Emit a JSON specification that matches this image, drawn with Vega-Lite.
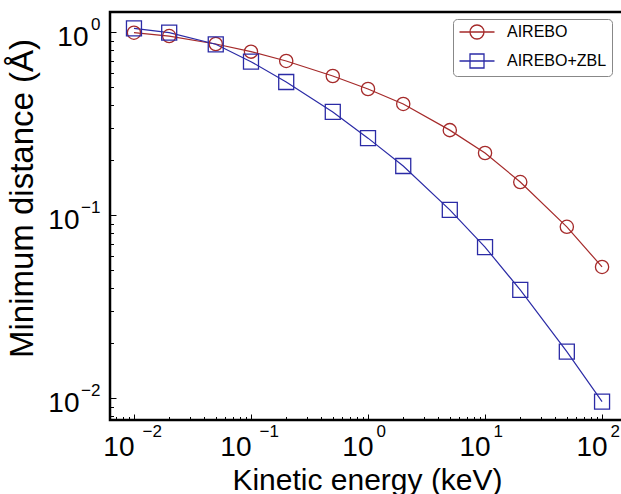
{
  "$schema": "https://vega.github.io/schema/vega-lite/v6.json",
  "width": 513,
  "height": 408,
  "autosize": {"type": "none"},
  "padding": {"left": 110, "top": 12, "right": 0, "bottom": 74},
  "background": "white",
  "config": {
    "view": {"stroke": "black", "strokeWidth": 2.5},
    "axis": {"grid": false, "domain": false, "labelColor": "black", "tickColor": "black", "labelFont": "Liberation Sans", "titleFont": "Liberation Sans", "titleFontWeight": "normal", "titleColor": "black", "labelOverlap": false, "labelFlush": false, "labelBound": false},
    "legend": {"labelFont": "Liberation Sans", "labelFontSize": 16, "labelColor": "black"}
  },
  "data": {
    "values": [
      {"e": 0.01, "d": 0.995, "s": "AIREBO"},
      {"e": 0.02, "d": 0.954, "s": "AIREBO"},
      {"e": 0.05, "d": 0.863, "s": "AIREBO"},
      {"e": 0.1, "d": 0.784, "s": "AIREBO"},
      {"e": 0.2, "d": 0.697, "s": "AIREBO"},
      {"e": 0.5, "d": 0.577, "s": "AIREBO"},
      {"e": 1, "d": 0.49, "s": "AIREBO"},
      {"e": 2, "d": 0.406, "s": "AIREBO"},
      {"e": 5, "d": 0.292, "s": "AIREBO"},
      {"e": 10, "d": 0.219, "s": "AIREBO"},
      {"e": 20, "d": 0.152, "s": "AIREBO"},
      {"e": 50, "d": 0.0865, "s": "AIREBO"},
      {"e": 100, "d": 0.0522, "s": "AIREBO"},
      {"e": 0.01, "d": 1.05, "s": "AIREBO+ZBL"},
      {"e": 0.02, "d": 0.995, "s": "AIREBO+ZBL"},
      {"e": 0.05, "d": 0.86, "s": "AIREBO+ZBL"},
      {"e": 0.1, "d": 0.691, "s": "AIREBO+ZBL"},
      {"e": 0.2, "d": 0.535, "s": "AIREBO+ZBL"},
      {"e": 0.5, "d": 0.367, "s": "AIREBO+ZBL"},
      {"e": 1, "d": 0.264, "s": "AIREBO+ZBL"},
      {"e": 2, "d": 0.186, "s": "AIREBO+ZBL"},
      {"e": 5, "d": 0.107, "s": "AIREBO+ZBL"},
      {"e": 10, "d": 0.067, "s": "AIREBO+ZBL"},
      {"e": 20, "d": 0.0391, "s": "AIREBO+ZBL"},
      {"e": 50, "d": 0.018, "s": "AIREBO+ZBL"},
      {"e": 100, "d": 0.0096, "s": "AIREBO+ZBL"}
    ]
  },
  "resolve": {"axis": {"x": "independent", "y": "independent"}},
  "layer": [
    {
      "mark": {"type": "line", "strokeWidth": 1.2},
      "encoding": {
        "x": {"field": "e", "type": "quantitative", "scale": {"type": "log", "domain": [0.00624, 151], "nice": false},
          "axis": {"orient": "bottom", "values": [0.01, 0.1, 1, 10, 100], "labelExpr": "'10'", "labelFontSize": 28, "labelAlign": "right", "labelBaseline": "top", "labelPadding": 13,
            "labelOffset": {"condition": {"test": "datum.value < 0.5", "value": 0}, "value": 5}, "ticks": false,
            "title": "Kinetic energy (keV)", "titleFontSize": 30, "titleX": 257, "titleY": 69, "titleBaseline": "alphabetic", "titleAlign": "center"}},
        "y": {"field": "d", "type": "quantitative", "scale": {"type": "log", "domain": [0.00761, 1.291], "nice": false},
          "axis": {"orient": "left", "values": [0.01, 0.1, 1], "labelExpr": "'10'", "labelFontSize": 28, "labelAlign": "right", "labelBaseline": "middle",
            "labelPadding": {"condition": {"test": "datum.value > 0.5", "value": 22}, "value": 31}, "labelOffset": 5, "ticks": false,
            "title": "Minimum distance (Å)", "titleFontSize": 33, "titleX": -88, "titleY": 186, "titleAngle": -90, "titleBaseline": "middle", "titleAlign": "center"}},
        "color": {"field": "s", "type": "nominal", "scale": {"domain": ["AIREBO", "AIREBO+ZBL"], "range": ["#a52a2a", "#2b2ba6"]},
          "legend": {"title": null, "orient": "none", "legendX": 343, "legendY": 7, "padding": 5, "rowPadding": 9,
            "symbolSize": 196, "symbolOffset": 11, "labelOffset": 22, "symbolStrokeWidth": 1.3,
            "fillColor": "white", "strokeColor": "#888888", "cornerRadius": 4,
            "encode": {"symbols": {"update": {
              "shape": {"signal": "datum.value === 'AIREBO' ? 'M-2.5,0L2.5,0M1,0A1,1,0,1,1,-1,0A1,1,0,1,1,1,0' : 'M-2.5,0L2.5,0M-1,-1L1,-1L1,1L-1,1Z'"},
              "fill": {"value": "transparent"},
              "strokeWidth": {"value": 1.3}}}}}}
      }
    },
    {
      "transform": [{"filter": "datum.s === 'AIREBO'"}],
      "mark": {"type": "point", "shape": "circle", "size": 175, "filled": false, "strokeWidth": 1.3, "opacity": 1},
      "encoding": {
        "x": {"field": "e", "type": "quantitative",
          "axis": {"orient": "bottom", "values": [0.01, 0.1, 1, 10, 100], "labelExpr": "replace(format(round(log(datum.value)/LN10), 'd'), '-', '−')", "labelFontSize": 17, "labelAlign": "left", "labelBaseline": "top", "labelPadding": 3, "labelOffset": 8, "ticks": false, "title": null}},
        "y": {"field": "d", "type": "quantitative",
          "axis": {"orient": "left", "values": [0.01, 0.1, 1], "labelExpr": "replace(format(round(log(datum.value)/LN10), 'd'), '-', '−')", "labelFontSize": 17, "labelAlign": "right", "labelBaseline": "middle", "labelPadding": 10, "labelOffset": -8, "ticks": false, "title": null}},
        "color": {"field": "s", "type": "nominal"}
      }
    },
    {
      "transform": [{"filter": "datum.s === 'AIREBO+ZBL'"}],
      "mark": {"type": "point", "shape": "square", "size": 225, "filled": false, "strokeWidth": 1.3, "opacity": 1},
      "encoding": {
        "x": {"field": "e", "type": "quantitative", "axis": null},
        "y": {"field": "d", "type": "quantitative", "axis": null},
        "color": {"field": "s", "type": "nominal"}
      }
    },
    {
      "mark": {"type": "point", "opacity": 0},
      "encoding": {
        "x": {"field": "e", "type": "quantitative",
          "axis": {"orient": "bottom", "values": [0.01, 0.1, 1, 10, 100], "labels": false, "ticks": true, "tickSize": 6, "tickWidth": 1, "offset": -6, "title": null}},
        "y": {"field": "d", "type": "quantitative",
          "axis": {"orient": "left", "values": [0.01, 0.1, 1], "labels": false, "ticks": true, "tickSize": 6, "tickWidth": 1, "offset": -6, "title": null}}
      }
    },
    {
      "mark": {"type": "point", "opacity": 0},
      "encoding": {
        "x": {"field": "e", "type": "quantitative",
          "axis": {"orient": "bottom", "values": [0.007, 0.008, 0.009, 0.02, 0.03, 0.04, 0.05, 0.06, 0.07, 0.08, 0.09, 0.2, 0.3, 0.4, 0.5, 0.6, 0.7, 0.8, 0.9, 2, 3, 4, 5, 6, 7, 8, 9, 20, 30, 40, 50, 60, 70, 80, 90], "labels": false, "ticks": true, "tickSize": 3.5, "tickWidth": 1, "offset": -3.5, "title": null}},
        "y": {"field": "d", "type": "quantitative",
          "axis": {"orient": "left", "values": [0.008, 0.009, 0.02, 0.03, 0.04, 0.05, 0.06, 0.07, 0.08, 0.09, 0.2, 0.3, 0.4, 0.5, 0.6, 0.7, 0.8, 0.9], "labels": false, "ticks": true, "tickSize": 3.5, "tickWidth": 1, "offset": -3.5, "title": null}}
      }
    }
  ]
}
